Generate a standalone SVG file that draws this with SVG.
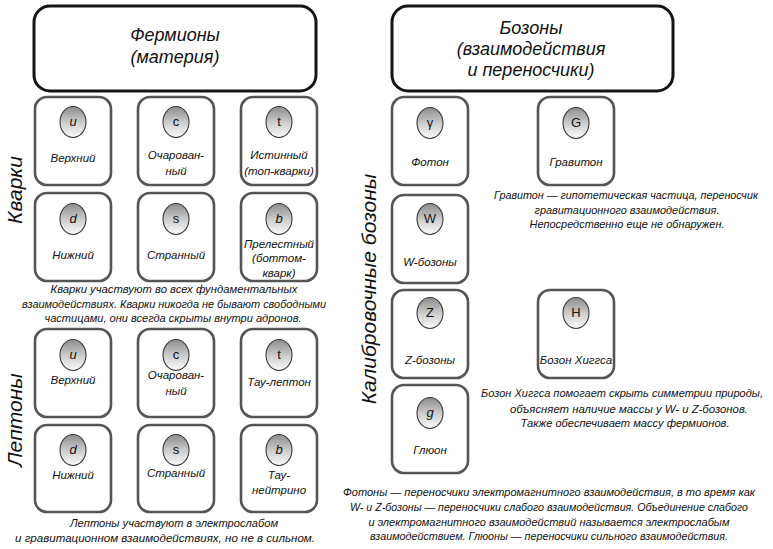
<svg xmlns="http://www.w3.org/2000/svg" width="773" height="549" viewBox="0 0 773 549">
<defs>
<linearGradient id="ball" x1="0" y1="0" x2="0" y2="1">
<stop offset="0" stop-color="#8c8c8c"/>
<stop offset="0.55" stop-color="#d0d0d0"/>
<stop offset="1" stop-color="#fbfbfb"/>
</linearGradient>
</defs>
<style>
.hdr{fill:#fff;stroke:#141414;stroke-width:3}
.card{fill:#fff;stroke:#555;stroke-width:2.6}
.ball{fill:url(#ball);stroke:#3a3a3a;stroke-width:1.1}
text{font-family:"Liberation Sans",Arial,sans-serif;fill:#111}
.h{font-size:18px;font-style:italic;text-anchor:middle}
.lab{font-size:11.5px;font-style:italic;text-anchor:middle}
.sym{font-size:13px;text-anchor:middle}
.si{font-size:13px;font-style:italic;text-anchor:middle}
.p{font-size:11.5px;font-style:italic;text-anchor:middle}
.pw{font-size:11px;font-style:italic;text-anchor:middle}
.side{font-size:21px;font-style:italic;text-anchor:middle}
</style>
<rect width="773" height="549" fill="#fff"/>

<g id="fermions">
<rect class="hdr" x="34" y="6" width="282" height="85" rx="16"/>
<text class="h" x="175" y="41">Фермионы</text>
<text class="h" x="175" y="63">(материя)</text>
</g>
<g id="bosons">
<rect class="hdr" x="392" y="6" width="281" height="85" rx="16"/>
<text class="h" x="531" y="34">Бозоны</text>
<text class="h" x="531" y="55">(взаимодействия</text>
<text class="h" x="531" y="76">и переносчики)</text>
</g>

<g id="side-labels">
<text class="side" transform="translate(22,190) rotate(-90)">Кварки</text>
<text class="side" transform="translate(22,420) rotate(-90)">Лептоны</text>
<text class="side" transform="translate(376,289) rotate(-90)">Калибровочные бозоны</text>
</g>

<!-- Quarks -->
<g id="q-u"><rect class="card" x="35" y="97" width="76" height="88" rx="12"/><ellipse class="ball" cx="73" cy="122" rx="13" ry="15.5"/><text class="si" x="73" y="126">u</text><text class="lab" x="73" y="162">Верхний</text></g>
<g id="q-c"><rect class="card" x="138" y="97" width="76" height="88" rx="12"/><ellipse class="ball" cx="176" cy="122" rx="13" ry="15.5"/><text class="sym" x="176" y="126">c</text><text class="lab" x="176" y="159">Очарован-</text><text class="lab" x="176" y="175">ный</text></g>
<g id="q-t"><rect class="card" x="241" y="97" width="76" height="88" rx="12"/><ellipse class="ball" cx="279" cy="122" rx="13" ry="15.5"/><text class="sym" x="279" y="126">t</text><text class="lab" x="279" y="159">Истинный</text><text class="lab" x="279" y="175">(топ-кварки)</text></g>
<g id="q-d"><rect class="card" x="35" y="193" width="76" height="88" rx="12"/><ellipse class="ball" cx="73" cy="219" rx="13" ry="15.5"/><text class="si" x="73" y="223">d</text><text class="lab" x="73" y="259">Нижний</text></g>
<g id="q-s"><rect class="card" x="138" y="193" width="76" height="88" rx="12"/><ellipse class="ball" cx="176" cy="219" rx="13" ry="15.5"/><text class="sym" x="176" y="223">s</text><text class="lab" x="176" y="259">Странный</text></g>
<g id="q-b"><rect class="card" x="241" y="193" width="76" height="88" rx="12"/><ellipse class="ball" cx="279" cy="219" rx="13" ry="15.5"/><text class="si" x="279" y="223">b</text><text class="lab" x="279" y="248">Прелестный</text><text class="lab" x="279" y="262">(боттом-</text><text class="lab" x="279" y="277">кварк)</text></g>

<g id="quark-note">
<text class="p" x="174" y="293" textLength="247" lengthAdjust="spacingAndGlyphs">Кварки участвуют во всех фундаментальных</text>
<text class="p" x="174" y="308" textLength="304" lengthAdjust="spacingAndGlyphs">взаимодействиях. Кварки никогда не бывают свободными</text>
<text class="p" x="173" y="322" textLength="257" lengthAdjust="spacingAndGlyphs">частицами, они всегда скрыты внутри адронов.</text>
</g>

<!-- Leptons -->
<g id="l-u"><rect class="card" x="35" y="329" width="76" height="88" rx="12"/><ellipse class="ball" cx="73" cy="355" rx="13" ry="15.5"/><text class="si" x="73" y="359">u</text><text class="lab" x="73" y="384">Верхний</text></g>
<g id="l-c"><rect class="card" x="138" y="329" width="76" height="88" rx="12"/><ellipse class="ball" cx="176" cy="355" rx="13" ry="15.5"/><text class="sym" x="176" y="359">c</text><text class="lab" x="176" y="379">Очарован-</text><text class="lab" x="176" y="395">ный</text></g>
<g id="l-t"><rect class="card" x="241" y="329" width="76" height="88" rx="12"/><ellipse class="ball" cx="279" cy="355" rx="13" ry="15.5"/><text class="sym" x="279" y="359">t</text><text class="lab" x="279" y="386">Тау-лептон</text></g>
<g id="l-d"><rect class="card" x="35" y="425" width="76" height="87" rx="12"/><ellipse class="ball" cx="73" cy="450" rx="13" ry="15.5"/><text class="si" x="73" y="454">d</text><text class="lab" x="73" y="479">Нижний</text></g>
<g id="l-s"><rect class="card" x="138" y="425" width="76" height="87" rx="12"/><ellipse class="ball" cx="176" cy="450" rx="13" ry="15.5"/><text class="sym" x="176" y="454">s</text><text class="lab" x="176" y="477">Странный</text></g>
<g id="l-b"><rect class="card" x="241" y="425" width="76" height="87" rx="12"/><ellipse class="ball" cx="279" cy="450" rx="13" ry="15.5"/><text class="si" x="279" y="454">b</text><text class="lab" x="279" y="479">Тау-</text><text class="lab" x="279" y="494">нейтрино</text></g>

<g id="lepton-note">
<text class="p" x="174" y="527" textLength="208" lengthAdjust="spacingAndGlyphs">Лептоны участвуют в электрослабом</text>
<text class="p" x="165" y="542" textLength="300" lengthAdjust="spacingAndGlyphs">и гравитационном взаимодействиях, но не в сильном.</text>
</g>

<!-- Bosons -->
<g id="b-gamma"><rect class="card" x="392" y="97" width="76" height="88" rx="12"/><ellipse class="ball" cx="430" cy="123" rx="13" ry="15.5"/><text class="sym" x="430" y="127">γ</text><text class="lab" x="430" y="166">Фотон</text></g>
<g id="b-G"><rect class="card" x="538" y="97" width="76" height="88" rx="12"/><ellipse class="ball" cx="576" cy="123" rx="13" ry="15.5"/><text class="sym" x="576" y="127">G</text><text class="lab" x="576" y="166">Гравитон</text></g>
<g id="b-W"><rect class="card" x="392" y="195" width="76" height="88" rx="12"/><ellipse class="ball" cx="430" cy="219" rx="13" ry="15.5"/><text class="sym" x="430" y="223">W</text><text class="lab" x="430" y="266">W-бозоны</text></g>
<g id="b-Z"><rect class="card" x="392" y="290" width="76" height="88" rx="12"/><ellipse class="ball" cx="430" cy="313" rx="13" ry="15.5"/><text class="sym" x="430" y="317">Z</text><text class="lab" x="430" y="364">Z-бозоны</text></g>
<g id="b-H"><rect class="card" x="538" y="290" width="76" height="88" rx="12"/><ellipse class="ball" cx="576" cy="313" rx="13" ry="15.5"/><text class="sym" x="576" y="317">H</text><text class="lab" x="576" y="364">Бозон Хиггса</text></g>
<g id="b-g"><rect class="card" x="392" y="385" width="76" height="88" rx="12"/><ellipse class="ball" cx="430" cy="413" rx="13" ry="15.5"/><text class="si" x="430" y="417">g</text><text class="lab" x="430" y="454">Глюон</text></g>

<g id="graviton-note">
<text class="pw" x="626" y="199" textLength="264" lengthAdjust="spacingAndGlyphs">Гравитон — гипотетическая частица, переносчик</text>
<text class="p" x="627" y="214" textLength="185" lengthAdjust="spacingAndGlyphs">гравитационного взаимодействия.</text>
<text class="p" x="627" y="228" textLength="195" lengthAdjust="spacingAndGlyphs">Непосредственно еще не обнаружен.</text>
</g>
<g id="higgs-note">
<text class="pw" x="622" y="397" textLength="282" lengthAdjust="spacingAndGlyphs">Бозон Хиггса помогает скрыть симметрии природы,</text>
<text class="p" x="629" y="413" textLength="238" lengthAdjust="spacingAndGlyphs">объясняет наличие массы у W- и Z-бозонов.</text>
<text class="p" x="625" y="427" textLength="209" lengthAdjust="spacingAndGlyphs">Также обеспечивает массу фермионов.</text>
</g>
<g id="bottom-note">
<text class="p" x="549" y="496" textLength="412" lengthAdjust="spacingAndGlyphs">Фотоны — переносчики электромагнитного взаимодействия, в то время как</text>
<text class="pw" x="549" y="511" textLength="398" lengthAdjust="spacingAndGlyphs">W- и Z-бозоны — переносчики слабого взаимодействия. Объединение слабого</text>
<text class="p" x="549" y="526" textLength="361" lengthAdjust="spacingAndGlyphs">и электромагнитного взаимодействий называется электрослабым</text>
<text class="p" x="549" y="540" textLength="358" lengthAdjust="spacingAndGlyphs">взаимодействием. Глюоны — переносчики сильного взаимодействия.</text>
</g>
</svg>
